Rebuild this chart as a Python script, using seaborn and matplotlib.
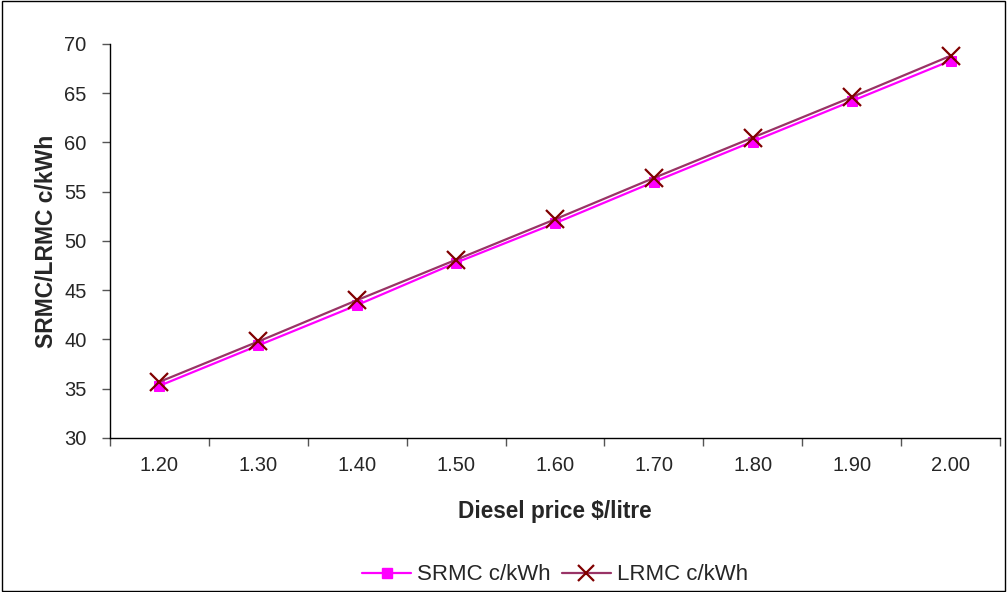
import matplotlib
matplotlib.use("Agg")
import matplotlib.pyplot as plt
from matplotlib.patches import Rectangle
import seaborn as sns
import pandas as pd

# Diesel price categories and marginal cost series (c/kWh)
prices = ["1.20", "1.30", "1.40", "1.50", "1.60", "1.70", "1.80", "1.90", "2.00"]
srmc = [35.3, 39.4, 43.5, 47.8, 51.8, 56.0, 60.1, 64.2, 68.3]
lrmc = [35.7, 39.8, 44.0, 48.1, 52.2, 56.4, 60.5, 64.6, 68.8]
series_names = ["SRMC c/kWh", "LRMC c/kWh"]

sns.set_style("white")
plt.rcParams["font.family"] = ["Liberation Sans", "DejaVu Sans"]

pos = list(range(len(prices)))
df_s = pd.DataFrame({"pos": pos, "value": srmc})
df_l = pd.DataFrame({"pos": pos, "value": lrmc})

fig = plt.figure(figsize=(10.07, 5.92), dpi=100)
ax = fig.add_axes([110 / 1007, (592 - 438) / 592, 890 / 1007, 394 / 592])

sns.lineplot(data=df_s, x="pos", y="value", color="#FF00FF", linewidth=1.6,
             marker="s", markersize=7.5, markerfacecolor="#FF00FF",
             markeredgecolor="#FF00FF", ax=ax, zorder=2)
sns.lineplot(data=df_l, x="pos", y="value", color="#993366", linewidth=1.6,
             marker="x", markersize=13, markeredgecolor="#800000",
             markeredgewidth=1.6, ax=ax, zorder=3)

ax.set_xlim(-0.5, len(prices) - 0.5)
ax.set_ylim(30, 70)
ax.set_yticks(range(30, 71, 5))

# category boundaries carry the tick marks, labels sit at centers
ax.set_xticks([i - 0.5 for i in range(len(prices) + 1)])
ax.set_xticklabels([])
ax.set_xticks(pos, minor=True)
ax.set_xticklabels(prices, minor=True)
ax.tick_params(axis="x", which="major", direction="out", length=6, width=1, color="#555555", bottom=True)
ax.tick_params(axis="x", which="minor", length=0, pad=13, labelsize=14.5)
ax.tick_params(axis="y", direction="out", length=6, width=1, color="#555555", left=True,
               labelsize=14.5, pad=11)

for side in ["top", "right"]:
    ax.spines[side].set_visible(False)
for side in ["left", "bottom"]:
    ax.spines[side].set_color("black")
    ax.spines[side].set_linewidth(1.0)

ax.set_xlabel("Diesel price $/litre", fontsize=16.3, fontweight="bold", labelpad=18)
ax.set_ylabel("SRMC/LRMC c/kWh", fontsize=16.5, fontweight="bold", labelpad=4)

handles = [
    plt.Line2D([], [], color="#FF00FF", marker="s", markersize=7, linewidth=1.6),
    plt.Line2D([], [], color="#993366", marker="x", markersize=12,
               markeredgecolor="#800000", markeredgewidth=1.6, linewidth=1.6),
]
fig.legend(handles, series_names, loc="center", bbox_to_anchor=(555 / 1007, 1 - 575 / 592),
           ncol=2, frameon=False, fontsize=16, handlelength=2.2, columnspacing=0.5,
           handletextpad=0.27, borderpad=0.1)

# outer frame around the whole chart
fig.patches.append(Rectangle((0.0015, 0.002), 0.997, 0.996, transform=fig.transFigure,
                             fill=False, edgecolor="black", linewidth=1.0))

fig.savefig("out.png", dpi=100)
